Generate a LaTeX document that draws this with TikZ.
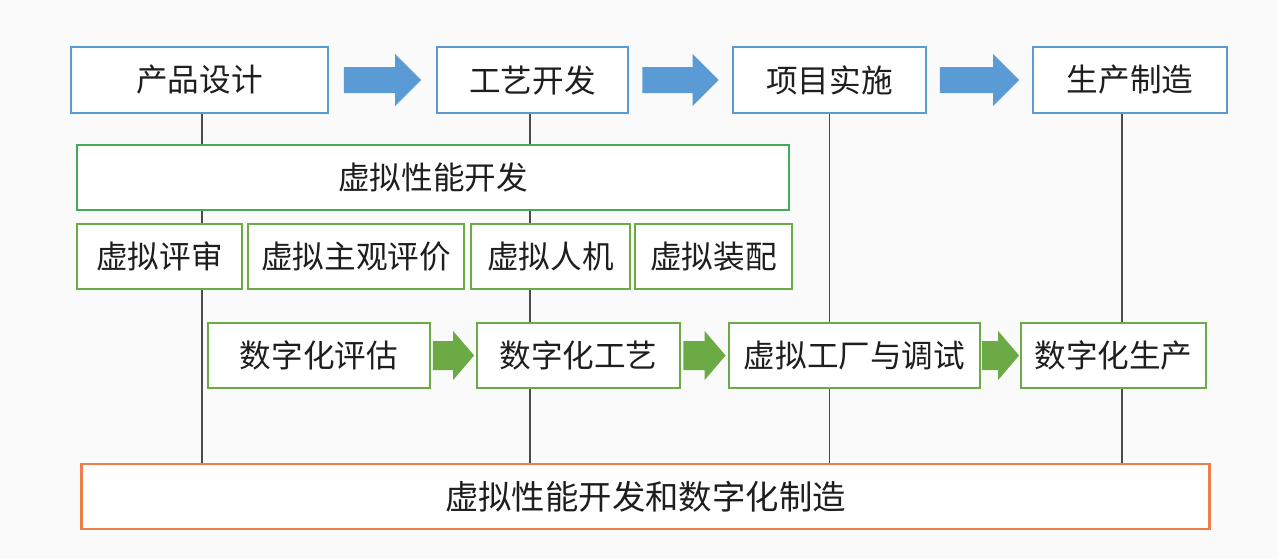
\documentclass[tikz,border=0pt]{standalone}
\usepackage{fontspec}
\setmainfont{Noto Sans CJK SC}
\usepackage{tikz}
\usetikzlibrary{calc,backgrounds}
\pgfdeclarelayer{background}
\pgfsetlayers{background,main}
\definecolor{stageblue}{RGB}{91,155,213}
\definecolor{virtgreen}{RGB}{62,172,88}
\definecolor{digigreen}{RGB}{108,170,70}
\definecolor{mfgorange}{RGB}{237,125,75}
\definecolor{paper}{RGB}{250,250,250}
\definecolor{ink}{RGB}{30,30,30}

% fat block arrow: colour, from, to, gap, shaft half, head half, head length
\newcommand{\fatarrow}[7]{%
  \fill[#1] ($(#2.east)+(#4,-#5)$) -- ($(#3.west)+(-#4-#7,-#5)$)
    -- ($(#3.west)+(-#4-#7,-#6)$) -- ($(#3.west)+(-#4,0)$)
    -- ($(#3.west)+(-#4-#7,#6)$) -- ($(#3.west)+(-#4-#7,#5)$)
    -- ($(#2.east)+(#4,#5)$) -- cycle;}

\begin{document}
\begin{tikzpicture}[x=0.02cm,y=-0.02cm,
	  box/.style={draw,fill=white,line width=1.6pt,text=ink,
	    font=\fontsize{18pt}{20pt}\selectfont,minimum height=1.30cm,inner sep=0pt},
	  stage/.style={box,draw=stageblue,minimum height=1.32cm},
	  virt/.style={box,draw=virtgreen},
	  digi/.style={box,draw=digigreen},
	  mfg/.style={box,draw=mfgorange,font=\fontsize{19pt}{21pt}\selectfont},
	  link/.style={draw=ink!80,line width=0.8pt},
	  ]
	  \useasboundingbox (0,0) rectangle (1278,558);
	  % stages
	  \node[stage,minimum width=5.14cm] (design) at (199.5,80) {产品设计};
	  \node[stage,minimum width=3.82cm] (process) at (532.5,80) {工艺开发};
	  \node[stage,minimum width=3.86cm] (project) at (829.5,80) {项目实施};
	  \node[stage,minimum width=3.88cm] (produce) at (1130,80) {生产制造};
	  % virtual performance
	  \node[virt,minimum width=14.24cm] (vperf) at (433,177.5) {虚拟性能开发};
	  \node[digi,minimum width=3.30cm] (review) at (159.5,256.5) {虚拟评审};
	  \node[digi,minimum width=4.32cm] (subjective) at (356,256.5) {虚拟主观评价};
	  \node[digi,minimum width=3.18cm] (ergo) at (550.5,256.5) {虚拟人机};
	  \node[digi,minimum width=3.14cm] (assembly) at (713.5,256.5) {虚拟装配};
	  % digital manufacturing
	  \node[digi,minimum width=4.44cm] (assess) at (319,355.5) {数字化评估};
	  \node[digi,minimum width=4.06cm] (dproc) at (578.5,355.5) {数字化工艺};
	  \node[digi,minimum width=5.02cm] (factory) at (854.5,355.5) {虚拟工厂与调试};
	  \node[digi,minimum width=3.70cm] (dprod) at (1113.5,355.5) {数字化生产};
	  \node[mfg,minimum width=22.58cm] (all) at (645.5,496.5) {虚拟性能开发和数字化制造};

	  \fatarrow{stageblue}{design}{process}{14.5}{13}{26}{26}
	  \fatarrow{stageblue}{process}{project}{13}{13}{26}{26}
	  \fatarrow{stageblue}{project}{produce}{12.5}{13}{26}{26}
	  \fatarrow{digigreen}{assess}{dproc}{1.5}{14.5}{24.5}{21}
	  \fatarrow{digigreen}{dproc}{factory}{2}{14.5}{24.5}{21}
	  \fatarrow{digigreen}{factory}{dprod}{0.5}{14.5}{24.5}{21}

	  \begin{pgfonlayer}{background}
	    \fill[paper] (0,0) rectangle (1278,558);
	    \path[link] ([xshift=0.05cm]design.south) -- ([xshift=0.05cm]design.south |- all.north);
	    \path[link] ([xshift=-0.05cm]process.south) -- ([xshift=-0.05cm]process.south |- all.north);
	    \path[link] (project.south) -- (project.south |- all.north);
	    \path[link] ([xshift=-0.16cm]produce.south) -- ([xshift=-0.16cm]produce.south |- all.north);
	  \end{pgfonlayer}
	\end{tikzpicture}
\end{document}
